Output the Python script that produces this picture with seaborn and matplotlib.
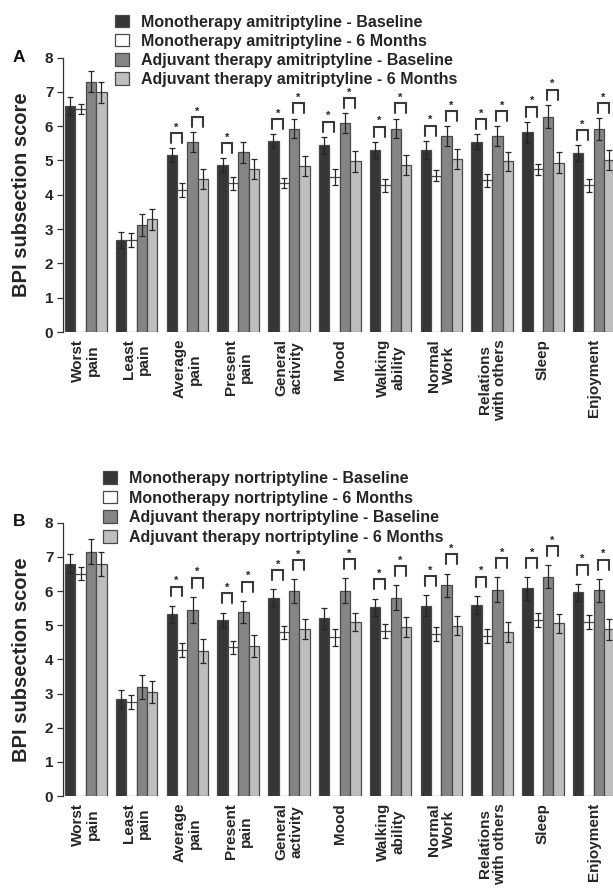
import numpy as np
import pandas as pd
import matplotlib
matplotlib.use("Agg")
import matplotlib.pyplot as plt
from matplotlib.patches import Patch
import seaborn as sns

categories = ["Worst\npain", "Least\npain", "Average\npain", "Present\npain",
              "General\nactivity", "Mood", "Walking\nability", "Normal\nWork",
              "Relations\nwith others", "Sleep", "Enjoyment"]

groups_A = ["Monotherapy amitriptyline - Baseline",
            "Monotherapy amitriptyline - 6 Months",
            "Adjuvant therapy amitriptyline - Baseline",
            "Adjuvant therapy amitriptyline - 6 Months"]
groups_B = ["Monotherapy nortriptyline - Baseline",
            "Monotherapy nortriptyline - 6 Months",
            "Adjuvant therapy nortriptyline - Baseline",
            "Adjuvant therapy nortriptyline - 6 Months"]

# Panel A (amitriptyline) means
mono_base_A = [6.59, 2.69, 5.15, 4.87, 5.56, 5.44, 5.31, 5.31, 5.54, 5.82, 5.21]
mono_6m_A   = [6.49, 2.68, 4.14, 4.33, 4.34, 4.51, 4.27, 4.56, 4.42, 4.74, 4.27]
adj_base_A  = [7.29, 3.12, 5.53, 5.24, 5.93, 6.08, 5.93, 5.71, 5.71, 6.28, 5.92]
adj_6m_A    = [6.98, 3.28, 4.45, 4.76, 4.83, 4.97, 4.87, 5.03, 4.97, 4.93, 5.00]
# Panel A standard errors
err_mb_A = [0.26, 0.23, 0.21, 0.20, 0.20, 0.25, 0.23, 0.26, 0.22, 0.31, 0.23]
err_m6_A = [0.15, 0.20, 0.20, 0.18, 0.15, 0.23, 0.20, 0.15, 0.18, 0.15, 0.18]
err_ab_A = [0.31, 0.32, 0.29, 0.31, 0.29, 0.29, 0.29, 0.29, 0.29, 0.34, 0.31]
err_a6_A = [0.31, 0.30, 0.29, 0.29, 0.29, 0.31, 0.29, 0.29, 0.27, 0.31, 0.29]
# Panel A significance (baseline vs 6 months)
sig_mono_A = [0, 0, 1, 1, 1, 1, 1, 1, 1, 1, 1]
sig_adj_A  = [0, 0, 1, 0, 1, 1, 1, 1, 1, 1, 1]

# Panel B (nortriptyline) means
mono_base_B = [6.80, 2.84, 5.32, 5.16, 5.81, 5.20, 5.52, 5.57, 5.59, 6.08, 5.96]
mono_6m_B   = [6.51, 2.76, 4.28, 4.35, 4.79, 4.64, 4.83, 4.75, 4.68, 5.15, 5.10]
adj_base_B  = [7.15, 3.18, 5.44, 5.38, 6.00, 6.01, 5.81, 6.17, 6.04, 6.42, 6.02]
adj_6m_B    = [6.79, 3.04, 4.24, 4.39, 4.88, 5.09, 4.95, 4.99, 4.80, 5.05, 4.88]
# Panel B standard errors
err_mb_B = [0.27, 0.27, 0.25, 0.21, 0.25, 0.30, 0.26, 0.30, 0.27, 0.33, 0.25]
err_m6_B = [0.20, 0.20, 0.20, 0.20, 0.20, 0.25, 0.20, 0.20, 0.20, 0.20, 0.20]
err_ab_B = [0.37, 0.35, 0.39, 0.33, 0.34, 0.36, 0.36, 0.34, 0.37, 0.34, 0.34]
err_a6_B = [0.35, 0.32, 0.36, 0.31, 0.29, 0.27, 0.29, 0.27, 0.28, 0.27, 0.30]
# Panel B significance
sig_mono_B = [0, 0, 1, 1, 1, 0, 1, 1, 1, 1, 1]
sig_adj_B  = [0, 0, 1, 1, 1, 1, 1, 1, 1, 1, 1]

yticks = [0, 1, 2, 3, 4, 5, 6, 7, 8]

sns.set_theme(style="white")
plt.rcParams["font.family"] = ["Liberation Sans", "DejaVu Sans"]
plt.rcParams["font.weight"] = "bold"

colors = ["#363636", "#ffffff", "#858585", "#bebebe"]
edge = "#4a4a4a"
ink = "#262626"

W, H = 613, 889
fig = plt.figure(figsize=(W / 100, H / 100), dpi=100)


def px_axes(left, top, right, bottom):
    return [left / W, 1 - bottom / H, (right - left) / W, (bottom - top) / H]


axA = fig.add_axes(px_axes(63, 57.5, 613, 332))
axB = fig.add_axes(px_axes(63, 522.7, 613, 796))


def draw_panel(ax, groups, vals, errs, sig_m, sig_a, gap):
    rows = []
    for g, v in zip(groups, vals):
        for c, y in zip(categories, v):
            rows.append({"category": c, "group": g, "value": y})
    df = pd.DataFrame(rows)
    sns.barplot(data=df, x="category", y="value", hue="group",
                order=categories, hue_order=groups,
                palette=dict(zip(groups, colors)), saturation=1,
                width=0.82, errorbar=None, edgecolor=edge, linewidth=0.9,
                legend=False, ax=ax)
    centers = []
    for j, cont in enumerate(ax.containers[:4]):
        xs = [b.get_x() + b.get_width() / 2 for b in cont]
        centers.append(xs)
        ax.errorbar(xs, vals[j], yerr=errs[j], fmt="none", ecolor=ink,
                    elinewidth=0.9, capsize=2, capthick=0.9, zorder=4)
    for i in range(len(categories)):
        for flag, (a, b) in ((sig_m[i], (0, 1)), (sig_a[i], (2, 3))):
            if not flag:
                continue
            top = max(vals[a][i] + errs[a][i], vals[b][i] + errs[b][i]) + gap
            x1, x2 = centers[a][i] - 0.02, centers[b][i] - 0.01
            ax.plot([x1, x1, x2, x2], [top - 0.29, top, top, top - 0.29],
                    color="#3a3a3a", lw=1.5, solid_joinstyle="miter", zorder=5)
            ax.text((x1 + x2) / 2, top + 0.16, "*", ha="center", va="center",
                    fontsize=8, fontweight="bold", color=ink)
    ax.set_xlim(-0.449, 10.378)
    ax.set_ylim(0, 8)
    ax.set_yticks(yticks)
    ax.set_yticklabels([str(t) for t in yticks], fontsize=11, fontweight="bold",
                       color=ink)
    ax.set_xticks(range(len(categories)))
    ax.set_xticklabels(categories, rotation=90, fontsize=11, fontweight="bold",
                       multialignment="center", color=ink, linespacing=1.1)
    ax.tick_params(axis="x", length=0, pad=5)
    ax.tick_params(axis="y", left=True, length=4, width=0.9, color="#333333",
                   pad=3)
    sns.despine(ax=ax, bottom=True)
    ax.spines["left"].set_color("#333333")
    ax.spines["left"].set_linewidth(0.9)
    ax.set_xlabel("")
    ax.set_ylabel("BPI subsection score", fontsize=14.5, fontweight="bold",
                  color=ink)
    ax.yaxis.set_label_coords(-0.058, 0.5)
    ax.set_facecolor("none")


draw_panel(axA, groups_A,
           [mono_base_A, mono_6m_A, adj_base_A, adj_6m_A],
           [err_mb_A, err_m6_A, err_ab_A, err_a6_A], sig_mono_A, sig_adj_A,
           gap=0.44)
draw_panel(axB, groups_B,
           [mono_base_B, mono_6m_B, adj_base_B, adj_6m_B],
           [err_mb_B, err_m6_B, err_ab_B, err_a6_B], sig_mono_B, sig_adj_B,
           gap=0.56)


def add_legend(groups, x_px, y_px, spacing):
    handles = [Patch(facecolor=c, edgecolor=edge, linewidth=0.9, label=g)
               for c, g in zip(colors, groups)]
    fig.legend(handles=handles, loc="upper left",
               bbox_to_anchor=(x_px / W, 1 - y_px / H),
               bbox_transform=fig.transFigure, frameon=False,
               handlelength=0.85, handleheight=0.85,
               handletextpad=0.75, labelspacing=spacing, borderpad=0,
               borderaxespad=0, prop={"weight": "bold", "size": 11.5})


add_legend(groups_A, 115, 14.5, 0.26)
add_legend(groups_B, 103, 471, 0.29)

fig.text(19 / W, 1 - 57.5 / H, "A", fontsize=12.5, fontweight="bold",
         ha="center", va="center", color="#111111")
fig.text(19 / W, 1 - 521 / H, "B", fontsize=12.5, fontweight="bold",
         ha="center", va="center", color="#111111")

fig.savefig("out.png", dpi=100, facecolor="white")
